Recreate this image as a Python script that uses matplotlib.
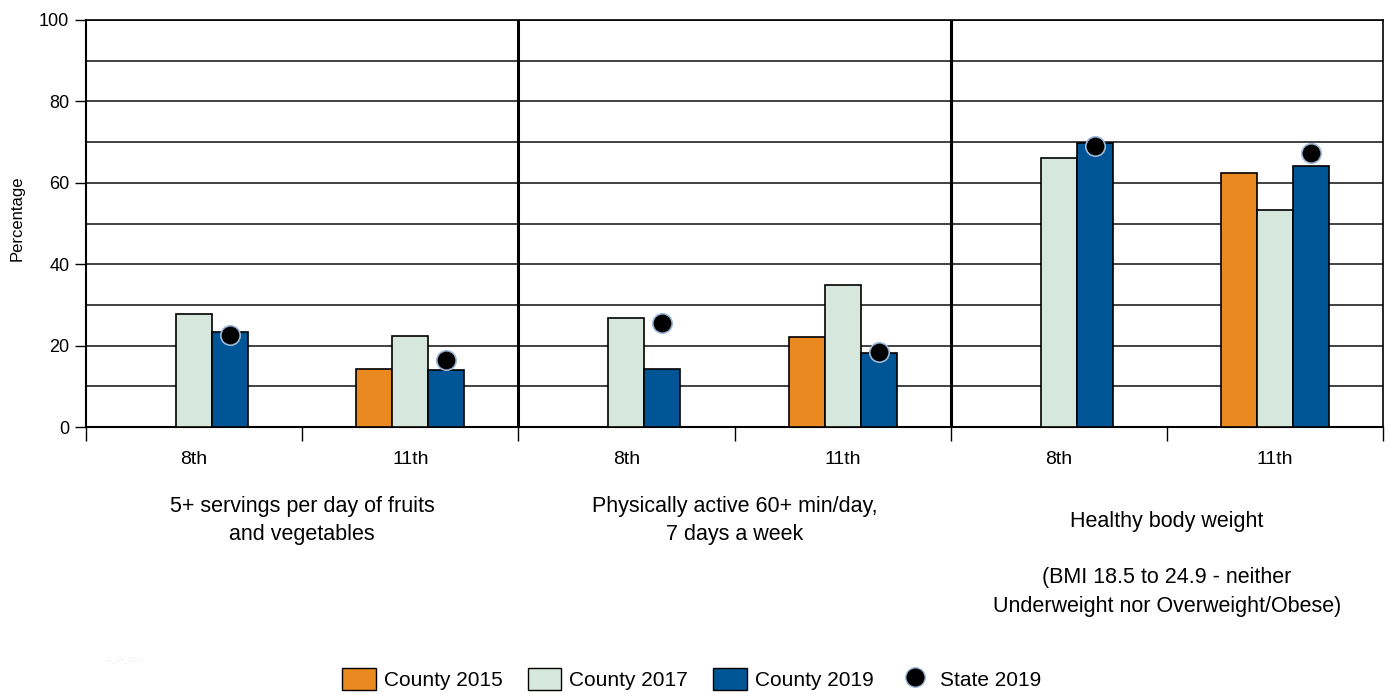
import matplotlib
matplotlib.use("Agg")
import matplotlib.pyplot as plt
import matplotlib.transforms as mtransforms
from matplotlib.patches import Patch
from matplotlib.lines import Line2D
import numpy as np

plt.rcParams['font.family'] = ['Liberation Sans', 'DejaVu Sans']

grades = ["8th", "11th", "8th", "11th", "8th", "11th"]
groups = ["5+ servings per day of fruits\nand vegetables",
          "Physically active 60+ min/day,\n7 days a week",
          "Healthy body weight\n\n(BMI 18.5 to 24.9 - neither\nUnderweight nor Overweight/Obese)"]
county_2015 = [np.nan, 14.2, np.nan, 22.0, np.nan, 62.4]
county_2017 = [27.8, 22.4, 26.7, 34.9, 66.0, 53.2]
county_2019 = [23.4, 14.0, 14.2, 18.3, 69.7, 64.1]
state_2019 = [22.6, 16.5, 25.6, 18.5, 69.1, 67.2]
series_names = ["County 2015", "County 2017", "County 2019", "State 2019"]

c15, c17, c19 = "#EA891F", "#D6E8DE", "#005596"

fig = plt.figure(figsize=(13.9, 6.94), dpi=100)
ax = fig.add_axes([86/1390, 1-427/694, (1383-86)/1390, (427-20)/694])

x = np.arange(len(grades))
w = 1/6
ax.bar(x - w, county_2015, w, color=c15, edgecolor="black", linewidth=1.2, zorder=3)
ax.bar(x, county_2017, w, color=c17, edgecolor="black", linewidth=1.2, zorder=3)
ax.bar(x + w, county_2019, w, color=c19, edgecolor="black", linewidth=1.2, zorder=3)
ax.plot(x + w, state_2019, 'o', color="black", markeredgecolor="#9DB8D9",
        markeredgewidth=1.2, markersize=14, zorder=5, linestyle="none")

ax.set_xlim(-0.5, 5.5)
ax.set_ylim(0, 100)
ax.set_yticks(np.arange(0, 101, 20))
ax.set_yticks(np.arange(10, 100, 20), minor=True)
ax.tick_params(axis='y', which='major', labelsize=13, length=8, width=1,
               direction='out', pad=4)
ax.tick_params(axis='y', which='minor', length=0)
ax.grid(axis='y', which='both', color="#333333", linewidth=1.3, zorder=1)

ax.set_xticks(np.arange(-0.5, 6, 1))
ax.set_xticklabels([])
ax.set_xticks(x, minor=True)
ax.set_xticklabels(grades, minor=True)
ax.tick_params(axis='x', which='major', length=10, width=1, direction='out')
ax.tick_params(axis='x', which='minor', length=0, labelsize=14, pad=17)

for xv in [1.5, 3.5]:
    ax.axvline(xv, color="black", linewidth=2.2, zorder=4)

for s in ax.spines.values():
    s.set_color("black")
    s.set_linewidth(1.2)
ax.spines['left'].set_linewidth(1.5)
ax.spines['bottom'].set_linewidth(1.5)

ax.set_ylabel("Percentage", fontsize=12)
ax.yaxis.set_label_coords(-0.047, 0.513)

trans = mtransforms.blended_transform_factory(ax.transData, fig.transFigure)
kw = dict(transform=trans, ha="center", va="top", fontsize=15.5, linespacing=1.42)
ax.text(0.5, 1-496/694, groups[0], **kw)
ax.text(2.5, 1-496/694, groups[1], **kw)
ax.text(4.5, 1-511/694, groups[2], fontsize=15.5, linespacing=1.45,
        transform=trans, ha="center", va="top")

fig.text(105/1390, 1-660/694, "11_14_2019", fontsize=5, color="#F2F2F2", va="center")

handles = [Patch(facecolor=c15, edgecolor="black", label=series_names[0]),
           Patch(facecolor=c17, edgecolor="black", label=series_names[1]),
           Patch(facecolor=c19, edgecolor="black", label=series_names[2]),
           Line2D([], [], marker='o', color="black", markeredgecolor="#9DB8D9",
                  markersize=14, linestyle="none", label=series_names[3])]
fig.legend(handles=handles, loc="center", bbox_to_anchor=(692/1390, 1-679/694),
           ncol=4, frameon=False, fontsize=15, handlelength=1.6, handleheight=1.3,
           handletextpad=0.4, columnspacing=1.2)

fig.savefig("out.png", dpi=100)
